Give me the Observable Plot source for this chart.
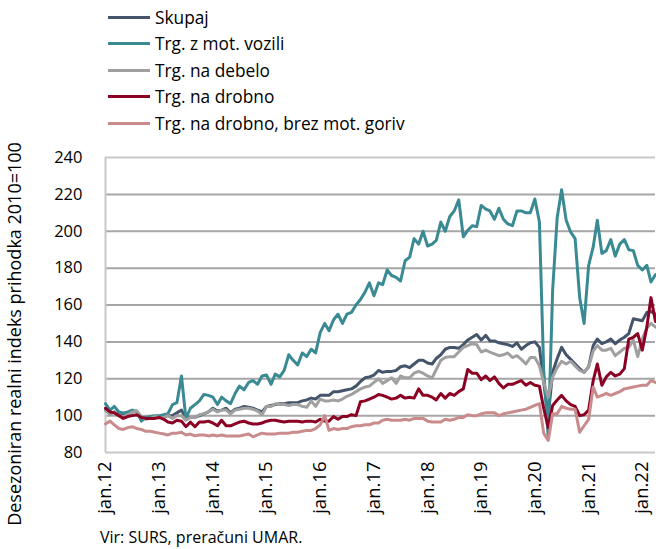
<!DOCTYPE html>
<html><head><meta charset="utf-8">
<script src="https://cdn.jsdelivr.net/npm/d3@7"></script>
<script src="https://cdn.jsdelivr.net/npm/@observablehq/plot@0.6"></script>
<style>
body{margin:0;background:#fff;font-family:"Open Sans",sans-serif;color:#000;}
#wrap{position:relative;width:656px;height:549px;overflow:hidden;}
#legend{position:absolute;left:108px;top:4px;}
.row{display:flex;align-items:center;height:26.5px;font-size:17.3px;}
.swatch{width:42px;height:3px;margin-right:5px;}
#ylab{position:absolute;left:14px;top:334px;transform:translate(-50%,-50%) rotate(-90deg);white-space:nowrap;font-size:18px;}
#chart{position:absolute;left:0;top:140px;}
#source{position:absolute;left:100px;top:526px;font-size:16px;white-space:nowrap;}
</style></head>
<body>
<div id="wrap">
  <div id="legend"></div>
  <div id="ylab">Desezoniran realni indeks prihodka 2010=100</div>
  <div id="chart"></div>
  <div id="source">Vir: SURS, preračuni UMAR.</div>
</div>
<script>
// monthly data, jan 2012 – apr 2022
const startYear = 2012, startMonth = 0, monthCount = 124;

const seriesNames = ["Skupaj", "Trg. z mot. vozili", "Trg. na debelo", "Trg. na drobno", "Trg. na drobno, brez mot. goriv"];
const seriesColors = ["#44546a", "#3a8a93", "#a0a0a0", "#8b0023", "#c98b8b"];

const skupaj = [
  103, 101, 102, 100.5, 100, 101, 102, 102.5, 99, 98.5, 99, 99.5,
  99.5, 99.5, 100, 100, 101.5, 103, 98.5, 99, 99, 100, 101, 102,
  104, 102.5, 103, 104, 101.5, 103.5, 104, 105, 104.5, 104, 103, 102,
  105, 105.5, 106, 106.5, 106.5, 107, 107, 107, 108, 108.5, 109.5, 109,
  111, 111, 111, 113, 113, 113.5, 114, 114.5, 116, 118.5, 120.5, 121,
  122, 124.5, 123.5, 124, 124, 124.5, 126.5, 127, 126, 128, 130, 130,
  128.5, 128, 131, 133, 136, 137, 137, 136.5, 138.5, 141, 142.5, 144,
  141, 143.5, 140.5, 140.5, 139.5, 139, 138.5, 137.5, 139.5, 136, 138, 139.5,
  140, 137, 118, 100, 123.5, 131, 137, 133, 130.5, 128, 125.5, 123.5,
  126.5, 138, 141.5, 139, 140, 141.5, 139, 141, 142.5, 144.5, 152.5, 152,
  151.5, 156, 156.5, 155
];
const motVozila = [
  106.5, 103, 105, 102, 101.5, 102, 103, 102, 97, 99, 99.5, 100,
  100, 100.5, 101, 106, 107, 121.5, 98.5, 104, 106, 108, 111.5, 111,
  110, 106, 110, 108, 106.5, 112, 116, 114, 118, 119, 117, 121.5,
  122, 117, 122.5, 121, 124.5, 133, 130, 127.5, 134, 132, 136, 134,
  145, 150, 146, 152, 155, 150, 155, 156, 160, 163, 167, 172,
  165, 172, 171, 179, 176, 175, 173, 184, 186, 196, 193, 200,
  192, 193, 195, 205, 200, 208, 211, 217, 197, 200.5, 203, 202.5,
  214, 212, 211, 206.5, 212.5, 206.5, 204, 203, 211, 211, 210, 210,
  217.5, 205, 125, 88, 168, 207.5, 222.5, 206, 199.5, 196, 164, 150,
  181.5, 191.5, 206, 188, 189.5, 195.5, 186.5, 193, 195.5, 190, 189.5, 181.5,
  179, 181.5, 172.5, 176.5
];
const debelo = [
  103, 101, 102, 100, 99.5, 100.5, 102, 102.5, 99, 98, 98.5, 99.5,
  99, 99, 100, 98.5, 100, 100, 97.5, 99, 99, 100.5, 101, 102,
  103.5, 102, 103, 103, 101, 103, 103.5, 104, 104, 103.5, 102.5, 100.5,
  105, 105, 106.5, 106, 106, 105.5, 106, 106, 105, 104.5, 108, 105,
  109, 108, 108, 108.5, 108, 109, 110.5, 111.5, 113, 114.5, 115.5, 116,
  118, 120, 117.5, 119, 120.5, 117.5, 121.5, 120.5, 120.5, 123, 124, 123,
  121.5, 120.5, 125, 130, 131.5, 132, 132, 134.5, 137, 138, 139, 138.5,
  134.5, 135.5, 134.5, 133.5, 132.5, 133, 134, 131.5, 132.5, 130.5, 128, 131.5,
  131.5, 127, 118, 110, 121, 126, 129.5, 128, 129.5, 127, 124.5, 123.5,
  126.5, 135, 138, 135.5, 135.5, 136.5, 132.5, 134.5, 136.5, 137, 141, 132,
  141.5, 147.5, 150, 148
];
const drobno = [
  104, 102, 101.5, 100, 98.5, 99.5, 100, 100.5, 99, 98.5, 98.5, 98.5,
  99, 98, 96.5, 96, 97.5, 97, 94, 96.5, 94, 96.5, 96.5, 97,
  96, 94.5, 97.5, 94.5, 94.5, 95.5, 96.5, 97, 96, 95.5, 95.5, 96,
  97, 97.5, 97.5, 97, 96.5, 97, 97, 97, 96.5, 97, 97, 96.5,
  98, 97, 97, 99.5, 98, 99.5, 99.5, 100.5, 100, 107.5, 108, 109,
  110, 111.5, 111, 110, 109, 109.5, 111, 109.5, 110, 109.5, 114.5, 111,
  111, 110, 108.5, 112, 109.5, 112, 111, 113, 114.5, 125, 123, 123,
  119.5, 121.5, 119, 121, 117.5, 115, 117, 117, 118, 119, 116.5, 118,
  116.5, 116, 104, 93.5, 105.5, 108.5, 111, 108, 106, 105, 100, 100.5,
  103, 119, 128, 116.5, 121, 123.5, 121.5, 122.5, 125.5, 141.5, 142.5, 144.5,
  135.5, 148, 164, 151
];
const drobnoBrezGoriv = [
  95.5, 97, 95, 93, 92.5, 93.5, 94, 93, 92.5, 91.5, 91.5, 91,
  90.5, 90, 89.5, 90.5, 90.5, 91, 89.5, 90, 89, 89.5, 89.5, 89,
  89.5, 89, 89.5, 89, 89, 89, 89, 89.5, 90, 88.5, 89.5, 90.5,
  90, 90, 90, 90.5, 90.5, 90.5, 91, 91, 91.5, 92, 92, 93,
  95, 100, 92, 93, 92.5, 93, 93, 94, 94.5, 94.5, 95, 95,
  96, 96, 97.5, 98, 97.5, 97.5, 97.5, 98, 97.5, 98.5, 98.5, 98.5,
  97, 96.5, 96.5, 96.5, 98, 97.5, 98, 99, 99, 100.5, 100, 100,
  101, 101.5, 101.5, 101.5, 100, 101, 101.5, 102, 102.5, 103, 103.5, 104.5,
  105.5, 106.5, 90.5, 86.5, 101, 101, 105, 104, 103.5, 103.5, 91, 94.5,
  98, 115.5, 110, 111, 112, 111, 112, 113, 114.5, 115, 115.5, 116,
  116.5, 116.5, 119, 118
];

const yTicks = [80, 100, 120, 140, 160, 180, 200, 220, 240];
const tickYears = [2012, 2013, 2014, 2015, 2016, 2017, 2018, 2019, 2020, 2021, 2022];
const xTickLabels = ["jan.12", "jan.13", "jan.14", "jan.15", "jan.16", "jan.17", "jan.18", "jan.19", "jan.20", "jan.21", "jan.22"];

// build table
const months = d3.range(monthCount).map(i => new Date(Date.UTC(startYear, startMonth + i, 1)));
const allSeries = [skupaj, motVozila, debelo, drobno, drobnoBrezGoriv];
const rows = [];
allSeries.forEach((vals, s) => vals.forEach((v, i) => rows.push({date: months[i], value: v, series: seriesNames[s]})));

const labelByYear = new Map(tickYears.map((y, i) => [y, xTickLabels[i]]));
const tickDates = tickYears.map(y => new Date(Date.UTC(y, 0, 1)));
const gridVals = yTicks.filter(v => v !== yTicks[0] && v !== yTicks[yTicks.length - 1]);
const edgeVals = [yTicks[0], yTicks[yTicks.length - 1]];

const lineMarks = seriesNames.map((name, s) =>
  Plot.line(rows.filter(r => r.series === name), {x: "date", y: "value", stroke: seriesColors[s], strokeWidth: 3, strokeLinejoin: "round"})
);

const chart = Plot.plot({
  width: 656,
  height: 387,
  marginTop: 17,
  marginBottom: 75,
  marginLeft: 105,
  marginRight: 1,
  style: {fontFamily: "Open Sans", fontSize: "16px", color: "#000", background: "transparent"},
  x: {type: "utc", domain: [months[0], months[months.length - 1]]},
  y: {domain: [yTicks[0], yTicks[yTicks.length - 1]]},
  marks: [
    Plot.ruleY(gridVals, {stroke: "#a6a6a6", strokeWidth: 2}),
    Plot.ruleY(edgeVals, {stroke: "#c8c8c8", strokeWidth: 2}),
    Plot.ruleX([months[0]], {stroke: "#c8c8c8", strokeWidth: 2}),
    ...lineMarks,
    Plot.axisY({ticks: yTicks, tickSize: 0, tickPadding: 23, fontSize: 16.5, label: null}),
    Plot.axisX({ticks: tickDates, tickFormat: d => labelByYear.get(d.getUTCFullYear()), tickRotate: -90, tickSize: 0, tickPadding: 9, fontSize: 18.5, label: null})
  ]
});
document.getElementById("chart").appendChild(chart);

const legend = document.getElementById("legend");
seriesNames.forEach((name, s) => {
  const row = document.createElement("div");
  row.className = "row";
  const sw = document.createElement("span");
  sw.className = "swatch";
  sw.style.background = seriesColors[s];
  const t = document.createElement("span");
  t.textContent = name;
  row.appendChild(sw);
  row.appendChild(t);
  legend.appendChild(row);
});
</script>
</body></html>
